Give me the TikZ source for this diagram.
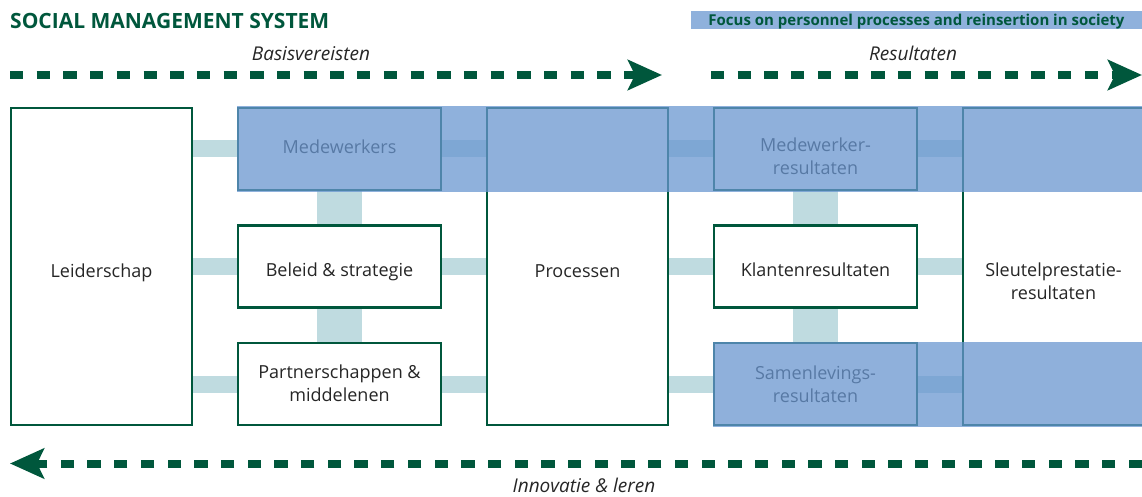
\documentclass[tikz,border=0pt]{standalone}
\usepackage{fontspec}
\setmainfont{Open Sans}
\usetikzlibrary{positioning, calc, arrows.meta, backgrounds}

\definecolor{smgreen}{RGB}{0,87,60}
\definecolor{linkblue}{RGB}{191,219,224}
\definecolor{focusblue}{RGB}{105,150,208}
\definecolor{bannerblue}{RGB}{143,177,220}
\definecolor{txtgray}{RGB}{38,38,38}

\tikzset{
    box/.style={draw=smgreen, line width=2.4pt, outer sep=0pt, inner sep=0pt, fill=white,
        text=txtgray, align=center, font=\fontsize{18}{23}\selectfont},
    bigbox/.style={box, minimum width=181pt, minimum height=317pt},
    smallbox/.style={box, minimum width=203pt, minimum height=82pt},
    textpos/.style 2 args={text height=#1, text depth=#2},
    hlink/.style={linkblue, line width=17pt},
    vlink/.style={linkblue, line width=45pt},
    flow/.style={smgreen, line width=8pt, dash pattern=on 13.3pt off 13.4pt,
        -{Stealth[length=34pt, width=30pt, inset=7pt]}},
    focus/.style={fill=focusblue, fill opacity=0.745},
    caption/.style={text=txtgray, font=\fontsize{19}{22}\selectfont\itshape}
}

\begin{document}
\begin{tikzpicture}[x=1pt, y=-1pt]
    \useasboundingbox (0,0) rectangle (1142,497);
    \clip (0,0) rectangle (1142,497);

    % heading
    \node[anchor=base west, inner sep=0pt, text=smgreen, font=\fontsize{21}{24}\selectfont\bfseries]
        (title) at (10,29) {SOCIAL MANAGEMENT SYSTEM};
    \node[fill=bannerblue, minimum width=451pt, minimum height=18pt, inner sep=0pt,
        text=smgreen, font=\fontsize{15}{16}\selectfont\bfseries, textpos={11pt}{0pt}]
        (banner) at (916.5,20) {Focus on personnel processes and reinsertion in society};

    % boxes
    \node[bigbox, textpos={21pt}{0pt}] (lead) at (101.5,266.5) {Leiderschap};
    \node[smallbox, textpos={10pt}{0pt}, right=46pt of lead.north east, anchor=north west] (staff) {Medewerkers};
    \node[smallbox, textpos={20pt}{0pt}, below=35.5pt of staff] (policy) {Beleid \& strategie};
    \node[smallbox, textpos={35pt}{0pt}, below=35.5pt of policy] (partner) {Partnerschappen \&\\middelenen};
    \node[bigbox, textpos={21pt}{0pt}, right=46pt of staff.north east, anchor=north west] (proc) {Processen};
    \node[smallbox, textpos={51pt}{0pt}, right=46pt of proc.north east, anchor=north west] (staffres) {Medewerker-\\resultaten};
    \node[smallbox, textpos={20pt}{0pt}, below=35.5pt of staffres] (custres) {Klantenresultaten};
    \node[smallbox, textpos={36pt}{0pt}, below=35.5pt of custres] (socres) {Samenlevings-\\resultaten};
    \node[bigbox, textpos={66pt}{0pt}, right=46pt of staffres.north east, anchor=north west] (keyres) {Sleutelprestatie-\\resultaten};

    % links
    \begin{scope}[on background layer]
        \draw[hlink]
            (lead.east |- staff.west) -- (staff.west)
            (lead.east |- policy.west) -- (policy.west)
            (lead.east |- partner.west) -- (partner.west)
            (staff.east) -- (staff.east -| proc.west)
            (policy.east) -- (policy.east -| proc.west)
            (partner.east) -- (partner.east -| proc.west)
            (proc.east |- staffres.west) -- (staffres.west)
            (proc.east |- custres.west) -- (custres.west)
            (proc.east |- socres.west) -- (socres.west)
            (staffres.east) -- (staffres.east -| keyres.west)
            (custres.east) -- (custres.east -| keyres.west)
            (socres.east) -- (socres.east -| keyres.west);
        \draw[vlink]
            (staff.south) -- (policy.north)
            (policy.south) -- (partner.north)
            (staffres.south) -- (custres.north)
            (custres.south) -- (socres.north);
    \end{scope}

    % focus bands
    \fill[focus] ($(staff.north west)+(-1.5pt,1.5pt)$) rectangle ($(keyres.east |- staff.south)+(6pt,-1.5pt)$);
    \fill[focus] ($(socres.north west)+(-1.5pt,1.5pt)$) rectangle ($(keyres.east |- socres.south)+(6pt,-1.5pt)$);

    % flows
    \coordinate (base0) at (10,75);
    \coordinate (base1) at (662,75);
    \coordinate (res0) at (711,75);
    \coordinate (res1) at (1142,75);
    \coordinate (inno0) at (1142,463.5);
    \coordinate (inno1) at (10,463.5);
    \draw[flow] (base0) -- (base1);
    \draw[flow] (res0) -- (res1);
    \draw[flow] (inno0) -- (inno1);
    \node[caption, anchor=base] (basis) at (311,61) {Basisvereisten};
    \node[caption, anchor=base] (result) at (913,61) {Resultaten};
    \node[caption, anchor=base, inner sep=0pt] (innov) at (584,492) {Innovatie \& leren};
\end{tikzpicture}
\end{document}
